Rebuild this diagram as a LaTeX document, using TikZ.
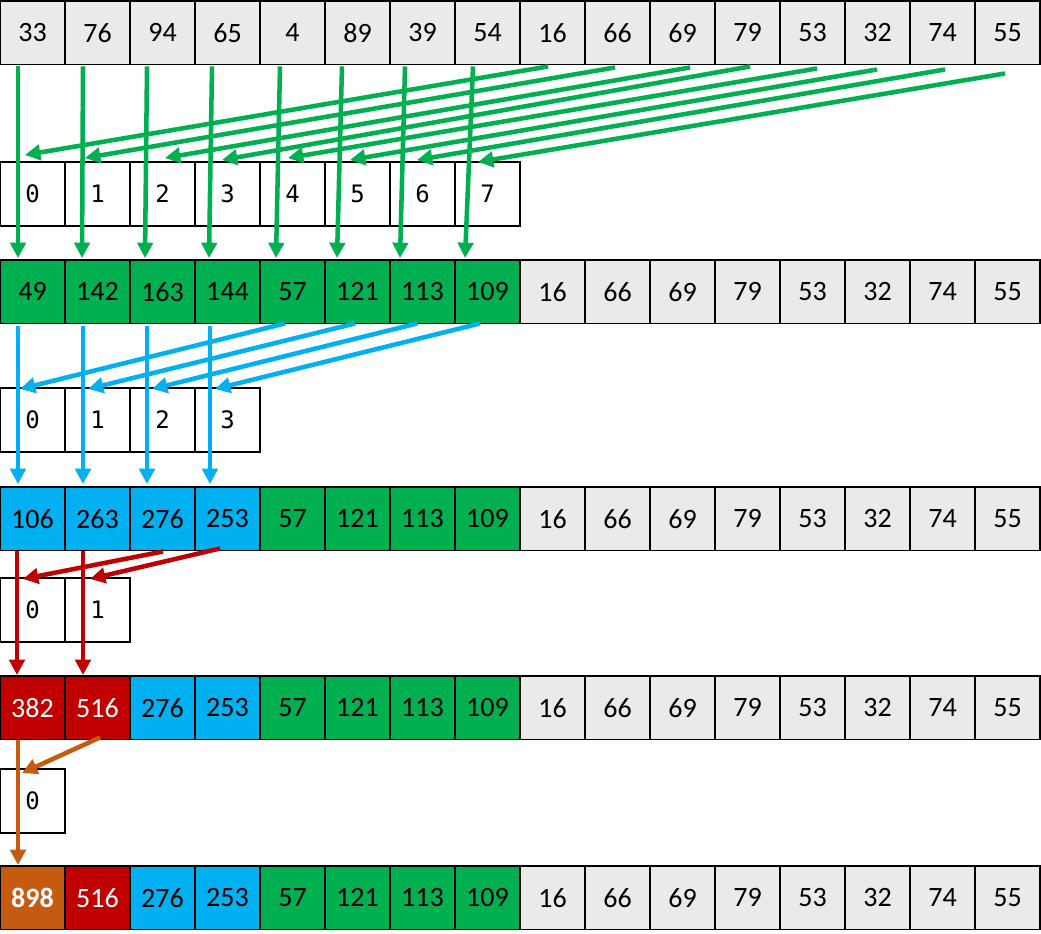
\documentclass[tikz,border=0pt]{standalone}
\usepackage{fontspec}
\setmainfont{Carlito}
\newfontfamily\monofnt{DejaVu Sans Mono}
\usetikzlibrary{arrows.meta,calc}
\definecolor{cgray}{HTML}{EAEAEA}
\definecolor{cgreen}{HTML}{00B050}
\definecolor{cblue}{HTML}{00B0F0}
\definecolor{cred}{HTML}{C00000}
\definecolor{corange}{HTML}{C55A11}
\begin{document}
\begin{tikzpicture}[x=0.75pt,y=-0.75pt,
  cell/.style={draw=black,line width=1pt,minimum width=48.75pt,minimum height=47.6pt,
    inner sep=0pt,outer sep=0pt,anchor=north west,font=\fontsize{21}{25}\selectfont},
  idx/.style={draw=black,line width=1pt,minimum width=48.75pt,minimum height=48pt,
    inner sep=0pt,outer sep=0pt,anchor=north west,fill=white,font=\monofnt\fontsize{18}{22}\selectfont},
  arr/.style={line width=3.4pt,-{Triangle[length=11.5pt,width=11.5pt]}},
  garrow/.style={arr,draw=cgreen},
  barrow/.style={arr,draw=cblue},
  rarrow/.style={arr,draw=cred},
  oarrow/.style={arr,draw=corange}]
\useasboundingbox (0,0) rectangle (1041,933);
% row 0
\foreach \v [count=\i from 0] in {33,76,94,65,4,89,39,54,16,66,69,79,53,32,74,55}
  \node[cell,fill=cgray] (r0c\i) at (65*\i,1) {\v};
% index row a
\foreach \i in {0,...,7}
  \node[idx] (a\i) at (65*\i,162) {\i};
% row 2
\foreach \v/\f [count=\i from 0] in {49/cgreen,142/cgreen,163/cgreen,144/cgreen,57/cgreen,121/cgreen,113/cgreen,109/cgreen,16/cgray,66/cgray,69/cgray,79/cgray,53/cgray,32/cgray,74/cgray,55/cgray}
  \node[cell,fill=\f] (r2c\i) at (65*\i,260) {\v};
% index row b
\foreach \i in {0,...,3}
  \node[idx] (b\i) at (65*\i,388) {\i};
% row 4
\foreach \v/\f [count=\i from 0] in {106/cblue,263/cblue,276/cblue,253/cblue,57/cgreen,121/cgreen,113/cgreen,109/cgreen,16/cgray,66/cgray,69/cgray,79/cgray,53/cgray,32/cgray,74/cgray,55/cgray}
  \node[cell,fill=\f] (r4c\i) at (65*\i,487) {\v};
% index row c
\foreach \i in {0,1}
  \node[idx] (c\i) at (65*\i,578) {\i};
% row 6
\foreach \v/\f/\t [count=\i from 0] in {382/cred/white,516/cred/white,276/cblue/black,253/cblue/black,57/cgreen/black,121/cgreen/black,113/cgreen/black,109/cgreen/black,16/cgray/black,66/cgray/black,69/cgray/black,79/cgray/black,53/cgray/black,32/cgray/black,74/cgray/black,55/cgray/black}
  \node[cell,fill=\f,text=\t] (r6c\i) at (65*\i,676) {\v};
% index row d
\node[idx] (d0) at (0,769) {0};
% row 8
\foreach \v/\f/\t [count=\i from 0] in {{\bfseries 898}/corange/white,516/cred/white,276/cblue/black,253/cblue/black,57/cgreen/black,121/cgreen/black,113/cgreen/black,109/cgreen/black,16/cgray/black,66/cgray/black,69/cgray/black,79/cgray/black,53/cgray/black,32/cgray/black,74/cgray/black,55/cgray/black}
  \node[cell,fill=\f,text=\t] (r8c\i) at (65*\i,866) {\v};
% green arrows
\foreach \i/\tx/\bx in {0/18/18,1/18/17,2/17/15,3/17/14,4/20/16,5/17/12,6/15/10,7/18/10}
  \draw[garrow] ($(r0c\i.south west)+(\tx,2)$) -- ($(r2c\i.north west)+(\bx,-2)$);
\foreach \s/\sx/\sy/\ex/\ey [count=\i from 0] in {8/28/2/25/-7,9/30/3/20/-4,10/40/3/35/-4,11/35/2/27/-2,12/37/4/28/-4,13/32/5/25/-2,14/35/5/27/-2,15/30/9/23/0}
  \draw[garrow] ($(r0c\s.south west)+(\sx,\sy)$) -- ($(a\i.north west)+(\ex,\ey)$);
% blue arrows
\foreach \i/\tx in {0/18,1/18,2/17,3/15}
  \draw[barrow] ($(r2c\i.south west)+(\tx,3)$) -- ($(r4c\i.north west)+(\tx,-3)$);
\foreach \s/\sx/\ex [count=\i from 0] in {4/25/20,5/30/23,6/27/22,7/25/20}
  \draw[barrow] ($(r2c\s.south west)+(\sx,0)$) -- ($(b\i.north west)+(\ex,1)$);
% red arrows
\foreach \i/\tx in {0/17,1/18}
  \draw[rarrow] ($(r4c\i.south west)+(\tx,1)$) -- ($(r6c\i.north west)+(\tx,-1)$);
\draw[rarrow] ($(r4c2.south west)+(33,1)$) -- ($(c0.north west)+(23,1)$);
\draw[rarrow] ($(r4c3.south west)+(25,-2)$) -- ($(c1.north west)+(25,1)$);
% orange arrows
\draw[oarrow] ($(r6c0.south west)+(18,1)$) -- ($(r8c0.north west)+(18,-1)$);
\draw[oarrow] ($(r6c1.south west)+(35,-2)$) -- ($(d0.north west)+(22,4)$);
\end{tikzpicture}
\end{document}
